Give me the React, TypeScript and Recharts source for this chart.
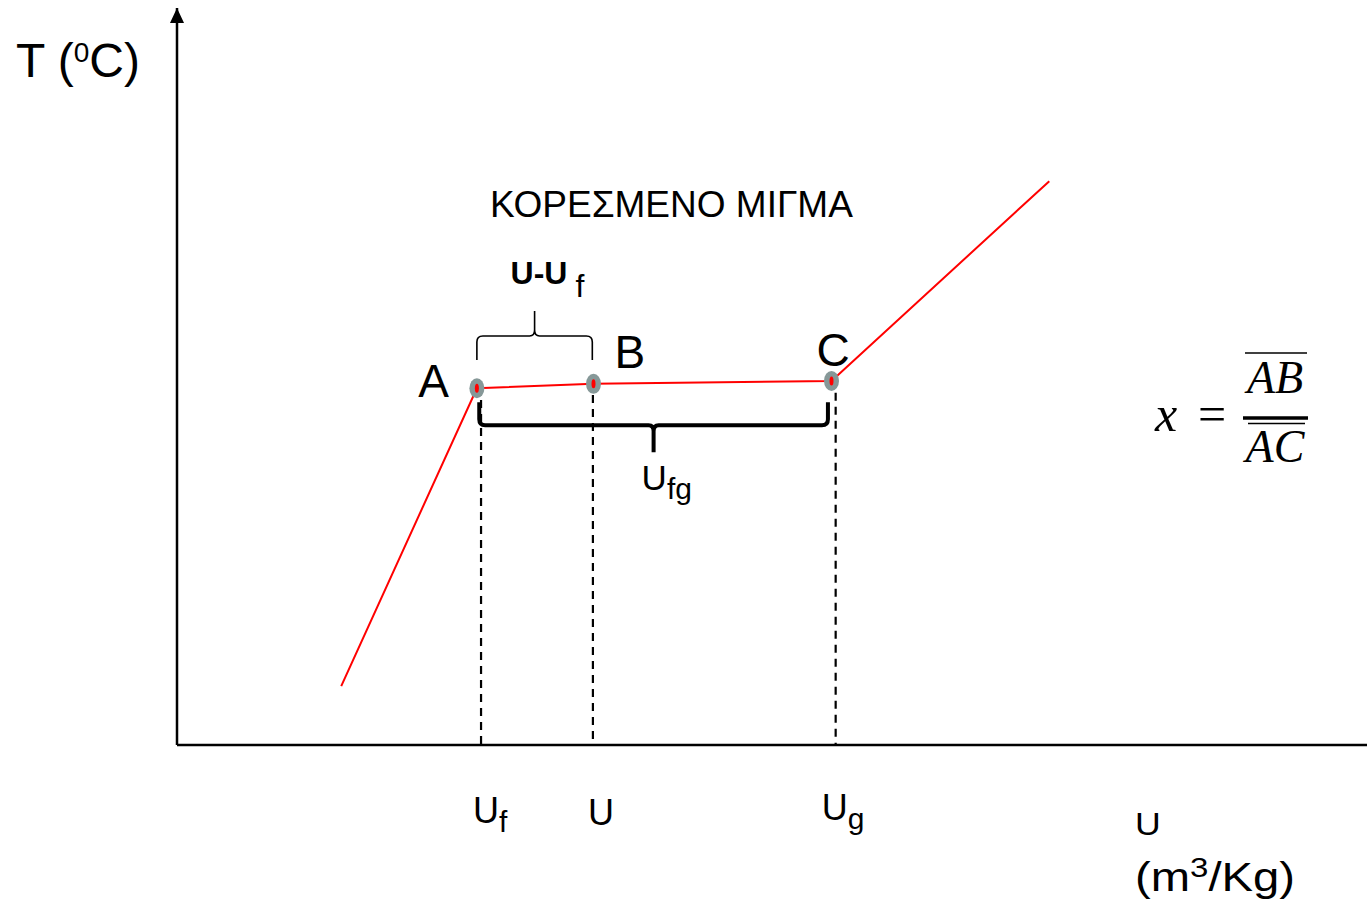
import React from 'react';
import { LineChart, Line, XAxis, YAxis, ReferenceLine, Customized } from 'recharts';

// ---- data (chart units: specific volume v, temperature T) ----
const volume = [13.8, 25.2, 35.0, 55.0, 73.3];
const temperature = [8.0, 48.4, 49.0, 49.4, 76.5];
const pointNames = ['', 'A', 'B', 'C', ''];

// x-axis ticks: u_f, u, u_g
const tickValues = [25.55, 34.95, 55.35];
const tickMain = ['U', 'U', 'U'];
const tickSub = ['f', '', 'g'];

// dashed drop lines from the saturation points to the axis
const dropX = [25.55, 34.95, 55.35];
const dropTop = [46.8, 47.5, 47.8];

// braces: start, end, level
const upperBrace = [25.2, 34.9, 55.5];
const lowerBrace = [25.4, 54.7, 43.4];

const curve = volume.map((v, i) => ({ v, t: temperature[i], name: pointNames[i] }));

const SANS = '"Liberation Sans", Arial, sans-serif';
const SERIF = '"Liberation Serif", "Times New Roman", serif';

// label styling offsets (px)
const tickDx = [-8, -5, -14];
const tickDy = [78, 80, 75];
const letterOffset: Record<string, { dx: number; dy: number; anchor: 'start' | 'end' }> = {
  A: { dx: -28, dy: 9, anchor: 'end' },
  B: { dx: 21, dy: -16, anchor: 'start' },
  C: { dx: -15, dy: -15, anchor: 'start' },
};

const renderDot = (props: any) => {
  const { cx, cy, payload, index } = props;
  if (!payload || !payload.name) return <g key={`d${index}`} />;
  const o = letterOffset[payload.name];
  return (
    <g key={`d${index}`}>
      <ellipse cx={cx} cy={cy} rx={7.5} ry={10} fill="#869898" />
      <ellipse cx={cx} cy={cy} rx={2} ry={4.5} fill="#ff0000" />
      <text x={cx + o.dx} y={cy + o.dy} textAnchor={o.anchor} fontFamily={SANS} fontSize={46} fill="#000">
        {payload.name}
      </text>
    </g>
  );
};

const renderTick = (props: any) => {
  const { x, y, payload } = props;
  const i = tickValues.indexOf(payload.value);
  if (i < 0) return <g />;
  return (
    <text x={x + tickDx[i]} y={y + tickDy[i]} fontFamily={SANS} fontSize={36} fill="#000">
      {tickMain[i]}
      {tickSub[i] ? (
        <tspan fontSize={30} dy={9}>
          {tickSub[i]}
        </tspan>
      ) : null}
    </text>
  );
};

const upBraceShape = (p: any) => {
  const { x1, x2, y1: y } = p;
  const xm = (x1 + x2) / 2;
  const d = `M${x1},${y + 24} L${x1},${y + 6} Q${x1},${y} ${x1 + 6},${y} L${xm - 5},${y} Q${xm},${y} ${xm},${y - 6} L${xm},${y - 25} M${xm},${y - 6} Q${xm},${y} ${xm + 5},${y} L${x2 - 6},${y} Q${x2},${y} ${x2},${y + 6} L${x2},${y + 24}`;
  return (
    <g>
      <path d={d} fill="none" stroke="#000" strokeWidth={1.6} />
      <text x={xm - 24} y={y - 52} fontFamily={SANS} fontSize={32} fontWeight="bold" fill="#000">
        U-U
        <tspan fontWeight="normal" fontSize={32} dx={8} dy={13}>
          f
        </tspan>
      </text>
    </g>
  );
};

const downBraceShape = (p: any) => {
  const { x1, x2, y1: y } = p;
  const xm = (x1 + x2) / 2;
  const d = `M${x1},${y - 23} L${x1},${y - 6} Q${x1},${y} ${x1 + 6},${y} L${xm - 5},${y} Q${xm},${y} ${xm},${y + 6} L${xm},${y + 27} M${xm},${y + 6} Q${xm},${y} ${xm + 5},${y} L${x2 - 6},${y} Q${x2},${y} ${x2},${y - 6} L${x2},${y - 23}`;
  return (
    <g>
      <path d={d} fill="none" stroke="#000" strokeWidth={4} />
      <text x={xm - 12} y={y + 65} fontFamily={SANS} fontSize={35} fill="#000">
        U
        <tspan fontSize={30} dy={9}>
          fg
        </tspan>
      </text>
    </g>
  );
};

const yLabel = (props: any) => {
  const vb = props.viewBox || { x: 117, y: 8, width: 60, height: 737 };
  const ax = vb.x + vb.width;
  const top = vb.y;
  return (
    <g>
      <polygon points={`${ax},${top} ${ax - 7},${top + 15} ${ax + 7},${top + 15}`} fill="#000" />
      <text x={ax - 161} y={top + 69} fontFamily={SANS} fontSize={48} fill="#000">
        T (
        <tspan fontSize={28} dy={-15}>
          0
        </tspan>
        <tspan dy={15}>C)</tspan>
      </text>
    </g>
  );
};

const xLabel = (props: any) => {
  const vb = props.viewBox || { x: 177, y: 745, width: 1190, height: 158 };
  const x0 = vb.x + 958;
  const y0 = vb.y;
  return (
    <g>
      <g transform={`translate(${x0},${y0 + 90}) scale(1.15,1)`}>
        <text x={0} y={0} fontFamily={SANS} fontSize={31} fill="#000">
          U
        </text>
      </g>
      <text x={x0} y={y0 + 146} fontFamily={SANS} fontSize={40} fill="#000" textLength={160} lengthAdjust="spacingAndGlyphs">
        (m
        <tspan fontSize={28} dy={-14}>
          3
        </tspan>
        <tspan dy={14}>/Kg)</tspan>
      </text>
    </g>
  );
};

const Annotations = () => (
  <g>
    <text x={490} y={217} fontFamily={SANS} fontSize={37} fill="#000">
      ΚΟΡΕΣΜΕΝΟ ΜΙΓΜΑ
    </text>
    <text x={1155} y={431} fontFamily={SERIF} fontStyle="italic" fontSize={50} fill="#000">
      x
    </text>
    <text x={1198} y={431} fontFamily={SERIF} fontSize={50} fill="#000">
      =
    </text>
    <line x1={1245} y1={353} x2={1307} y2={353} stroke="#000" strokeWidth={1.6} />
    <text x={1275} y={393} textAnchor="middle" fontFamily={SERIF} fontStyle="italic" fontSize={46} fill="#000">
      AB
    </text>
    <line x1={1243} y1={418} x2={1308} y2={418} stroke="#000" strokeWidth={3.5} />
    <line x1={1248} y1={423.5} x2={1305} y2={423.5} stroke="#000" strokeWidth={1.6} />
    <text x={1275} y={462} textAnchor="middle" fontFamily={SERIF} fontStyle="italic" fontSize={46} fill="#000">
      AC
    </text>
  </g>
);

export default function App() {
  return (
    <div style={{ position: 'absolute', left: 0, top: 0, background: '#fff' }}>
      <LineChart width={1367} height={903} data={curve} margin={{ top: 8, right: 0, bottom: 0, left: 117 }}>
        <XAxis
          type="number"
          dataKey="v"
          domain={[0, 100]}
          ticks={tickValues}
          interval={0}
          tickLine={false}
          tickSize={0}
          tickMargin={0}
          tick={renderTick}
          axisLine={{ stroke: '#000', strokeWidth: 2.5 }}
          height={158}
          allowDataOverflow
          label={xLabel}
        />
        <YAxis
          type="number"
          domain={[0, 100]}
          width={60}
          tick={false}
          tickLine={false}
          axisLine={{ stroke: '#000', strokeWidth: 2.5 }}
          allowDataOverflow
          label={yLabel}
        />
        {dropX.map((x, i) => (
          <ReferenceLine
            key={`drop${i}`}
            segment={[
              { x, y: dropTop[i] },
              { x, y: 0 },
            ]}
            stroke="#000"
            strokeWidth={2.2}
            strokeDasharray="8 6"
          />
        ))}
        <ReferenceLine
          segment={[
            { x: upperBrace[0], y: upperBrace[2] },
            { x: upperBrace[1], y: upperBrace[2] },
          ]}
          shape={upBraceShape}
        />
        <ReferenceLine
          segment={[
            { x: lowerBrace[0], y: lowerBrace[2] },
            { x: lowerBrace[1], y: lowerBrace[2] },
          ]}
          shape={downBraceShape}
        />
        <Line
          type="linear"
          dataKey="t"
          stroke="#ff0000"
          strokeWidth={2}
          dot={renderDot}
          activeDot={false}
          isAnimationActive={false}
        />
        <Customized component={Annotations} />
      </LineChart>
    </div>
  );
}
